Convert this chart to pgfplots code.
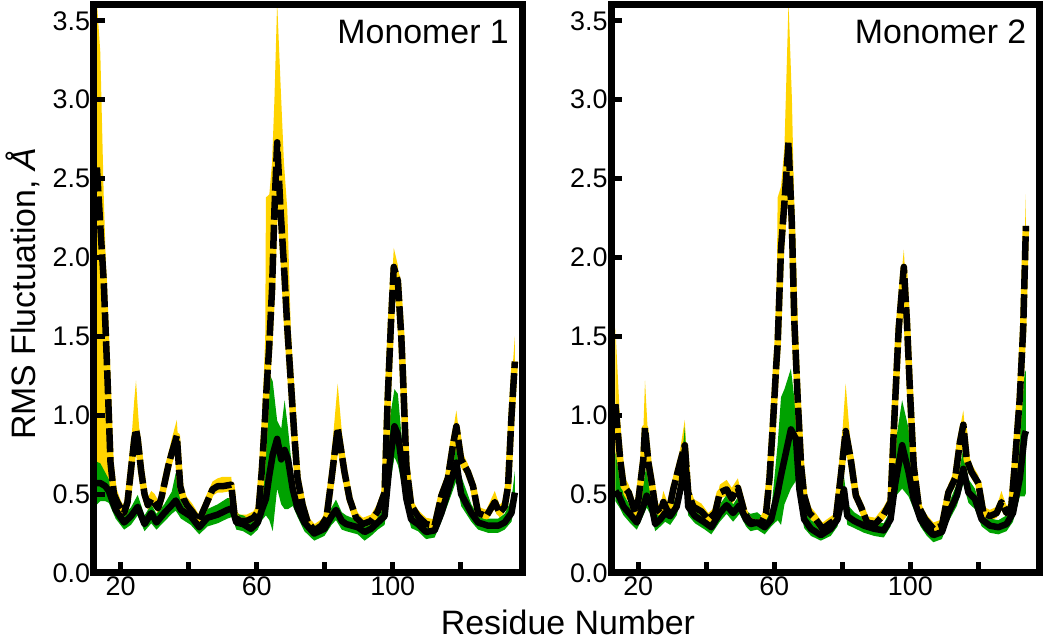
\documentclass[border=0pt]{standalone}
\usepackage{fontspec}
\setmainfont{Liberation Sans}
\usepackage{pgfplots}
\pgfplotsset{compat=1.18}
\usepackage{pgfplotstable}
\usepgfplotslibrary{fillbetween}

\definecolor{myyellow}{RGB}{255,212,0}
\definecolor{mygreen}{RGB}{0,162,0}

\pgfplotstableread{
r Y Yu Yl
13 2.57 3.62 0.45
14 2.20 3.30 0.50
15 1.85 2.40 0.55
16 1.30 1.70 0.55
17 0.70 0.95 0.50
18 0.50 0.60 0.44
19 0.45 0.52 0.40
20 0.41 0.46 0.37
21 0.38 0.42 0.35
22 0.45 0.52 0.41
23 0.65 0.80 0.58
24 0.85 1.10 0.75
24.5 0.91 1.22 0.82
25 0.85 1.05 0.76
26 0.65 0.75 0.58
27 0.50 0.56 0.46
28 0.43 0.48 0.40
29 0.47 0.52 0.43
30 0.44 0.50 0.41
31 0.41 0.46 0.38
32 0.48 0.54 0.44
33 0.58 0.64 0.54
34 0.68 0.75 0.63
35 0.76 0.85 0.70
36.5 0.87 0.97 0.80
37.5 0.55 0.62 0.50
38.5 0.47 0.52 0.43
39.5 0.43 0.48 0.40
41 0.39 0.44 0.36
43 0.33 0.37 0.30
45 0.43 0.48 0.39
47 0.53 0.58 0.49
48.5 0.55 0.60 0.51
50 0.55 0.61 0.51
52.5 0.56 0.61 0.52
53.5 0.36 0.40 0.33
55 0.33 0.37 0.30
57 0.33 0.37 0.30
59 0.35 0.39 0.32
60.5 0.39 0.45 0.36
61.5 0.65 0.90 0.58
62.5 1.00 1.50 0.90
62.7 1.10 2.38 0.95
63.7 1.45 2.40 1.30
64.5 1.80 2.60 1.60
65.2 2.30 3.00 2.10
66 2.73 3.62 2.50
67 2.30 3.10 2.10
68 1.95 2.60 1.80
69 1.55 2.30 1.40
70 1.22 1.55 1.10
71 0.89 1.05 0.80
72 0.60 0.70 0.55
73.5 0.43 0.48 0.40
75 0.32 0.36 0.29
77 0.27 0.31 0.24
79 0.30 0.34 0.27
80.5 0.35 0.40 0.32
82 0.60 0.75 0.54
83.8 0.92 1.20 0.82
85.8 0.64 0.70 0.59
87.3 0.47 0.52 0.43
89.2 0.35 0.39 0.32
91.2 0.31 0.35 0.28
93.6 0.33 0.37 0.30
95.6 0.39 0.44 0.36
97.6 0.51 0.58 0.47
98.5 1.10 1.20 1.00
99.5 1.60 1.75 1.50
100.3 1.94 2.06 1.85
101.5 1.85 1.95 1.75
102.5 1.50 1.60 1.40
103 1.25 1.33 1.15
104 0.68 0.75 0.62
105.4 0.43 0.48 0.40
107.4 0.36 0.40 0.33
109.8 0.31 0.35 0.28
112.3 0.30 0.34 0.27
114.3 0.49 0.54 0.45
116.2 0.60 0.66 0.56
117.7 0.81 0.90 0.75
118.7 0.93 1.03 0.86
120.1 0.72 0.78 0.67
122.1 0.64 0.69 0.60
123.6 0.55 0.60 0.51
125.1 0.38 0.42 0.35
127.5 0.36 0.40 0.33
130 0.45 0.52 0.41
131.4 0.38 0.43 0.35
132.9 0.42 0.47 0.39
133.9 0.55 0.70 0.50
134.9 0.99 1.20 0.90
135.9 1.34 1.50 1.20
}\leftY

\pgfplotstableread{
r G Gu Gl
13 0.57 0.69 0.45
14 0.57 0.68 0.47
15.5 0.55 0.62 0.47
16.5 0.52 0.58 0.46
18.5 0.40 0.44 0.36
21 0.32 0.36 0.29
23 0.36 0.40 0.32
25 0.42 0.48 0.38
27 0.31 0.35 0.28
29 0.38 0.42 0.33
30.5 0.32 0.36 0.29
32.8 0.38 0.42 0.34
35 0.43 0.50 0.39
36.2 0.46 0.62 0.41
37.7 0.40 0.45 0.36
40.6 0.36 0.40 0.32
43.1 0.29 0.32 0.26
45.5 0.35 0.39 0.31
48.5 0.37 0.42 0.33
51.4 0.40 0.46 0.36
52.8 0.41 0.46 0.37
54 0.32 0.36 0.29
56 0.31 0.35 0.28
58.3 0.28 0.32 0.25
60.3 0.32 0.36 0.29
61.5 0.40 0.50 0.35
62.7 0.47 0.85 0.38
63.7 0.62 1.25 0.35
64.7 0.75 1.20 0.28
66 0.85 0.95 0.55
67.2 0.72 0.90 0.45
68.2 0.78 1.08 0.42
69.2 0.72 0.90 0.42
70.6 0.53 0.60 0.44
72 0.41 0.46 0.37
74 0.32 0.36 0.28
76.9 0.25 0.28 0.22
79.9 0.28 0.32 0.25
82 0.36 0.40 0.32
83.3 0.40 0.45 0.35
85 0.33 0.37 0.29
86.3 0.31 0.35 0.28
89.7 0.29 0.32 0.26
91.7 0.26 0.29 0.22
93.6 0.28 0.31 0.25
95.6 0.32 0.36 0.29
97.6 0.36 0.42 0.32
99 0.68 0.95 0.55
100.5 0.93 1.15 0.75
101.5 0.88 1.12 0.70
103 0.64 0.75 0.55
104 0.47 0.52 0.42
105.4 0.34 0.38 0.30
107.4 0.31 0.34 0.28
109.8 0.26 0.29 0.23
112.3 0.27 0.30 0.24
114.3 0.38 0.42 0.34
116.7 0.55 0.62 0.48
118.7 0.70 0.85 0.60
120.1 0.50 0.60 0.44
123.1 0.38 0.42 0.34
125.1 0.32 0.35 0.29
128 0.30 0.33 0.27
131 0.30 0.33 0.27
132.9 0.32 0.36 0.29
134.9 0.38 0.45 0.34
135.9 0.51 0.63 0.45
}\leftG

\pgfplotstableread{
r Y Yu Yl
13.3 1.07 1.55 0.50
14.7 0.72 0.95 0.50
15.7 0.55 0.62 0.48
17.2 0.51 0.56 0.46
19.1 0.38 0.42 0.35
20.1 0.47 0.52 0.43
21.5 0.72 0.90 0.62
22 0.92 1.22 0.75
23 0.70 0.82 0.62
24 0.57 0.65 0.52
25 0.42 0.47 0.39
26.5 0.38 0.42 0.35
27.4 0.45 0.52 0.41
28.9 0.38 0.43 0.35
30.3 0.53 0.58 0.49
32.3 0.70 0.78 0.64
33.7 0.81 0.97 0.74
34.7 0.51 0.56 0.47
36.2 0.42 0.47 0.39
38.6 0.39 0.44 0.36
40.6 0.34 0.38 0.31
42.6 0.38 0.42 0.35
44 0.51 0.56 0.47
46 0.53 0.59 0.49
47.5 0.47 0.54 0.43
49.3 0.54 0.60 0.50
51.3 0.38 0.42 0.35
52.7 0.33 0.37 0.30
54.2 0.32 0.36 0.29
56.2 0.32 0.36 0.29
57.6 0.38 0.42 0.35
58.6 0.60 0.70 0.55
59.6 0.94 1.10 0.85
60.6 1.32 1.50 1.20
61 1.45 2.38 1.30
62 2.06 2.45 1.85
63 2.35 2.70 2.10
64.2 2.73 3.62 2.50
65.2 2.20 3.00 2.00
65.9 1.60 2.30 1.40
66.9 1.10 1.60 1.00
67.9 0.68 0.78 0.62
68.8 0.49 0.55 0.45
70.3 0.38 0.43 0.35
72.2 0.34 0.38 0.31
74.2 0.28 0.32 0.26
76.1 0.31 0.35 0.28
78.1 0.34 0.38 0.31
79.6 0.62 0.75 0.56
81 0.90 1.20 0.80
82.5 0.72 0.80 0.65
84 0.49 0.55 0.45
85.5 0.42 0.47 0.39
87.3 0.32 0.36 0.29
89.7 0.31 0.35 0.28
92.2 0.37 0.42 0.34
94.2 0.45 0.50 0.41
95.6 1.11 1.20 1.00
96.6 1.55 1.70 1.45
98.1 1.94 2.05 1.85
99 1.60 1.70 1.50
100 1.11 1.20 1.00
101 0.68 0.75 0.62
102.5 0.42 0.47 0.39
104.4 0.34 0.38 0.31
106.8 0.28 0.32 0.26
109.3 0.30 0.34 0.27
111.2 0.51 0.56 0.47
113.2 0.60 0.66 0.55
114.6 0.83 0.92 0.76
115.6 0.94 1.03 0.87
116.6 0.72 0.78 0.67
118 0.64 0.69 0.60
120 0.57 0.62 0.53
121.5 0.38 0.42 0.35
123.4 0.36 0.40 0.33
125.4 0.38 0.42 0.35
126.8 0.45 0.52 0.41
128.3 0.38 0.42 0.35
129.7 0.42 0.47 0.39
130.7 0.68 0.80 0.60
132.2 1.11 1.30 1.00
133.2 1.55 1.80 1.40
134 2.20 2.40 1.90
}\rightY

\pgfplotstableread{
r G Gu Gl
13.3 0.52 0.75 0.47
14.5 0.48 0.60 0.43
15.7 0.42 0.48 0.38
17.7 0.37 0.41 0.33
19.6 0.32 0.36 0.29
21.1 0.40 0.50 0.36
22.5 0.49 0.68 0.43
24 0.42 0.50 0.37
25 0.31 0.35 0.28
26.5 0.34 0.38 0.31
27.9 0.38 0.45 0.34
29.4 0.36 0.40 0.32
31.3 0.42 0.47 0.38
32.8 0.57 0.70 0.50
33.7 0.78 0.91 0.60
34.7 0.42 0.48 0.38
36.7 0.36 0.40 0.33
39.6 0.32 0.36 0.29
41.5 0.29 0.32 0.26
44 0.38 0.42 0.34
46 0.43 0.48 0.39
47.9 0.38 0.42 0.34
49.8 0.43 0.48 0.39
51.7 0.34 0.38 0.31
53 0.31 0.36 0.28
55 0.32 0.37 0.29
57.2 0.29 0.33 0.26
59.1 0.34 0.38 0.31
61 0.51 0.80 0.35
62 0.62 1.10 0.32
63 0.72 1.15 0.45
64.9 0.91 1.28 0.55
66.4 0.85 1.00 0.60
67.4 0.53 0.65 0.45
68.8 0.34 0.40 0.30
70.8 0.28 0.32 0.25
73.7 0.24 0.28 0.22
76.6 0.28 0.32 0.25
78.6 0.34 0.38 0.31
80.5 0.53 0.60 0.48
81.5 0.36 0.42 0.32
83.5 0.33 0.37 0.30
86.4 0.30 0.33 0.27
89.4 0.28 0.31 0.25
92.2 0.27 0.30 0.24
94.2 0.34 0.38 0.31
95.6 0.57 0.80 0.50
97.6 0.81 1.08 0.55
99.5 0.64 0.90 0.50
101 0.47 0.55 0.42
103 0.34 0.38 0.31
104.9 0.28 0.31 0.25
106.8 0.24 0.27 0.21
109.3 0.26 0.29 0.23
111.2 0.38 0.42 0.34
113.7 0.49 0.55 0.44
115.6 0.66 0.78 0.58
117.1 0.51 0.58 0.46
119 0.47 0.52 0.42
121 0.34 0.38 0.31
123.4 0.30 0.33 0.27
125.9 0.29 0.32 0.26
128.3 0.31 0.35 0.28
130.2 0.38 0.45 0.34
132.2 0.60 0.85 0.50
133.6 0.87 1.25 0.50
134 0.90 1.27 0.52
}\rightG

\pgfplotsset{
  rmsf/.style={
    scale only axis, width=428.5bp, height=568bp,
    xmin=12, xmax=138, ymin=0, ymax=3.6,
    axis on top,
    axis line style={line width=7bp},
    xtick={20,40,...,120}, xticklabels={20,,60,,100,},
    ytick={0,0.5,...,3.5},
    /pgf/number format/assume math mode=true,
    yticklabel style={/pgf/number format/.cd, fixed, fixed zerofill, precision=1},
    tick align=inside, xtick pos=bottom, ytick pos=left,
    major tick length=11bp,
    tick style={line width=5bp, black},
    tick label style={font=\fontsize{27}{30}\selectfont},
  },
  meanY/.style={line width=6.5bp, line join=round},
}

\begin{document}
\begin{tikzpicture}
\path (0,0) rectangle (1050bp,641bp);
\begin{axis}[rmsf, at={(93.5bp,68bp)}, anchor=south west]
  \addplot[name path=yu, draw=none, forget plot] table[x=r,y=Yu]{\leftY};
  \addplot[name path=yl, draw=none, forget plot] table[x=r,y=Yl]{\leftY};
  \addplot[myyellow, forget plot] fill between[of=yu and yl];
  \addplot[name path=gu, draw=none, forget plot] table[x=r,y expr=\thisrow{Gu}+0.015]{\leftG};
  \addplot[name path=gl, draw=none, forget plot] table[x=r,y expr=\thisrow{Gl}-0.015]{\leftG};
  \addplot[mygreen, forget plot] fill between[of=gu and gl];
  \addplot[myyellow, meanY] table[x=r,y=Y]{\leftY};
  \addplot[black, meanY, dash pattern=on 24bp off 5bp] table[x=r,y=Y]{\leftY};
  \addplot[black, meanY] table[x=r,y=G]{\leftG};
  \node[anchor=north east, inner sep=0pt, font=\fontsize{34}{40}\selectfont,
        xshift=-13bp, yshift=-15bp] at (axis description cs:1,1) {Monomer 1};
\end{axis}
\begin{axis}[rmsf, at={(611bp,68bp)}, anchor=south west]
  \addplot[name path=yu, draw=none, forget plot] table[x=r,y=Yu]{\rightY};
  \addplot[name path=yl, draw=none, forget plot] table[x=r,y=Yl]{\rightY};
  \addplot[myyellow, forget plot] fill between[of=yu and yl];
  \addplot[name path=gu, draw=none, forget plot] table[x=r,y expr=\thisrow{Gu}+0.015]{\rightG};
  \addplot[name path=gl, draw=none, forget plot] table[x=r,y expr=\thisrow{Gl}-0.015]{\rightG};
  \addplot[mygreen, forget plot] fill between[of=gu and gl];
  \addplot[myyellow, meanY] table[x=r,y=Y]{\rightY};
  \addplot[black, meanY, dash pattern=on 24bp off 5bp] table[x=r,y=Y]{\rightY};
  \addplot[black, meanY] table[x=r,y=G]{\rightG};
  \node[anchor=north east, inner sep=0pt, font=\fontsize{34}{40}\selectfont,
        xshift=-13bp, yshift=-15bp] at (axis description cs:1,1) {Monomer 2};
\end{axis}
\node[rotate=90, inner sep=0pt, font=\fontsize{34}{40}\selectfont] at (23bp,347bp) {RMS Fluctuation, \textit{Å}};
\node[inner sep=0pt, font=\fontsize{34}{40}\selectfont] at (568bp,19bp) {Residue Number};
\end{tikzpicture}
\end{document}
